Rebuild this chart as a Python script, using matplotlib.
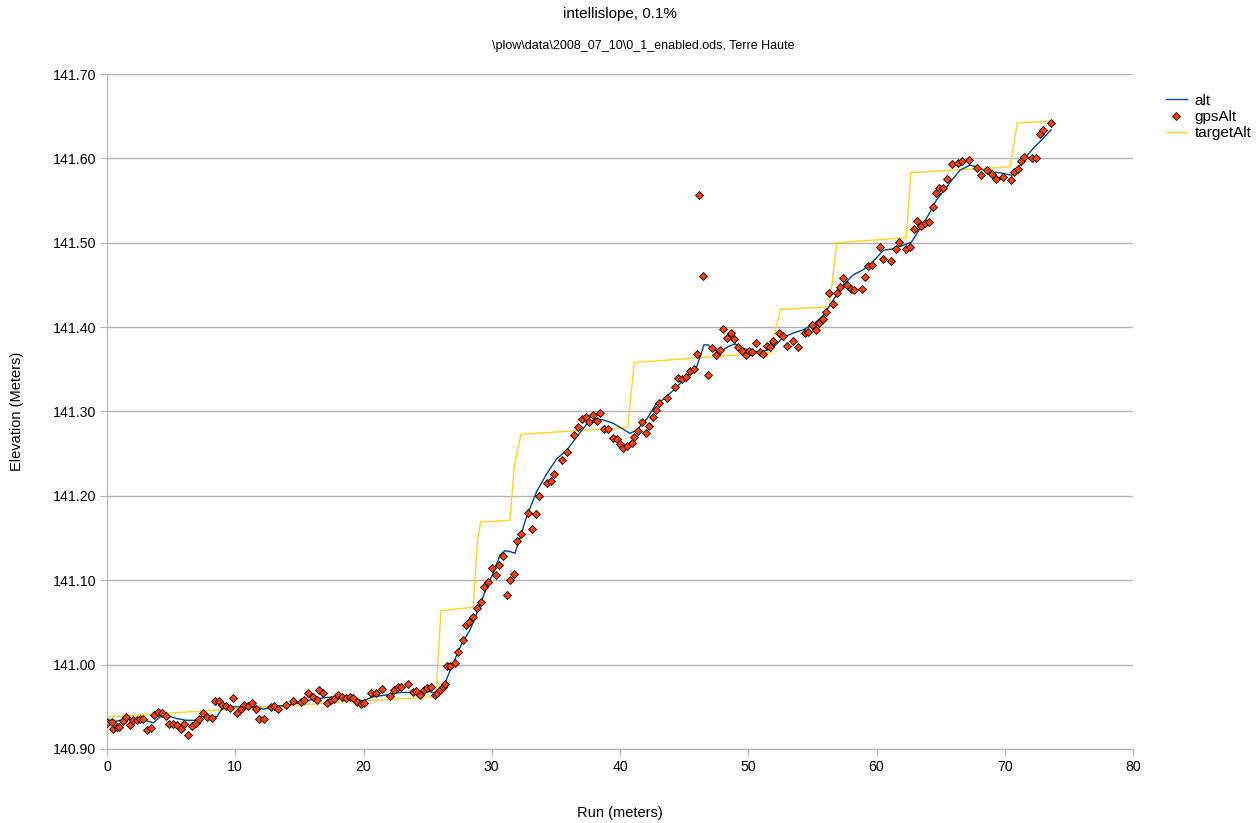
import matplotlib
matplotlib.use("Agg")
import matplotlib.pyplot as plt
from matplotlib.lines import Line2D

plt.rcParams['font.family'] = ['Liberation Sans', 'DejaVu Sans']

# ---- data ----
gps_run = [0.00, 0.37, 0.47, 0.76, 0.94, 1.22, 1.48, 1.79, 2.03, 2.32, 2.57, 2.81, 3.12, 3.41, 3.66, 3.98,
           4.29, 4.60, 4.83, 5.15, 5.46, 5.75, 6.00, 6.32, 6.63, 6.94, 7.17, 7.49, 7.80, 8.16, 8.42, 8.73,
           8.97, 9.28, 9.59, 9.83, 10.11, 10.42, 10.68, 10.99, 11.31, 11.62, 11.85, 12.24, 12.76, 13.02,
           13.33, 13.93, 14.48, 15.13, 15.36, 15.67, 16.04, 16.35, 16.53, 16.82, 17.13, 17.44, 17.70,
           18.01, 18.32, 18.64, 18.95, 19.20, 19.52, 19.81, 20.06, 20.58, 20.95, 21.47, 22.07, 22.38,
           22.67, 22.92, 23.49, 23.84, 24.07, 24.41, 24.72, 24.97, 25.24, 25.55, 25.75, 25.96, 26.18,
           26.33, 26.53, 26.74, 27.13, 27.39, 27.74, 27.97, 28.25, 28.56, 28.87, 29.14, 29.42, 29.68,
           30.00, 30.31, 30.57, 30.85, 31.17, 31.42, 31.71, 31.99, 32.28, 32.80, 33.16, 33.43, 33.68,
           34.28, 34.60, 34.88, 35.50, 35.84, 36.41, 36.70, 37.01, 37.33, 37.61, 37.87, 38.18, 38.44,
           38.78, 39.09, 39.43, 39.74, 40.00, 40.26, 40.57, 40.91, 41.11, 41.43, 41.72, 42.00, 42.26,
           42.55, 42.83, 43.06, 43.69, 44.29, 44.55, 44.86, 45.15, 45.46, 45.77, 46.03, 46.18, 46.49,
           46.89, 47.20, 47.49, 47.80, 48.05, 48.32, 48.63, 48.89, 49.18, 49.49, 49.80, 50.06, 50.32,
           50.60, 50.92, 51.17, 51.44, 51.70, 51.95, 52.40, 52.73, 53.04, 53.51, 53.90, 54.42, 54.68,
           54.95, 55.26, 55.52, 55.81, 56.06, 56.32, 56.58, 56.90, 57.15, 57.41, 57.68, 57.99, 58.27,
           58.85, 59.10, 59.36, 59.67, 60.27, 60.53, 61.13, 61.50, 61.75, 62.30, 62.61, 62.90, 63.18,
           63.49, 63.78, 64.09, 64.37, 64.64, 64.90, 65.21, 65.52, 65.86, 66.33, 66.69, 67.24, 67.81,
           68.12, 68.64, 68.98, 69.32, 69.89, 70.46, 70.72, 71.01, 71.27, 71.50, 72.10, 72.41, 72.75,
           72.96, 73.61]
gps_alt = [140.931, 140.932, 140.924, 140.926, 140.926, 140.933, 140.938, 140.928, 140.934, 140.934,
           140.936, 140.936, 140.923, 140.925, 140.940, 140.944, 140.943, 140.939, 140.930, 140.930,
           140.928, 140.924, 140.930, 140.917, 140.927, 140.931, 140.936, 140.943, 140.938, 140.937,
           140.957, 140.957, 140.952, 140.951, 140.949, 140.960, 140.943, 140.947, 140.952, 140.951,
           140.955, 140.947, 140.936, 140.936, 140.950, 140.951, 140.947, 140.952, 140.957, 140.956,
           140.958, 140.966, 140.962, 140.958, 140.970, 140.966, 140.955, 140.958, 140.959, 140.964,
           140.962, 140.960, 140.962, 140.960, 140.956, 140.953, 140.955, 140.966, 140.966, 140.971,
           140.963, 140.970, 140.974, 140.973, 140.977, 140.967, 140.969, 140.964, 140.970, 140.972,
           140.973, 140.964, 140.966, 140.970, 140.974, 140.977, 140.998, 140.998, 141.002, 141.015,
           141.029, 141.047, 141.051, 141.057, 141.067, 141.074, 141.092, 141.098, 141.114, 141.106,
           141.118, 141.129, 141.083, 141.100, 141.107, 141.146, 141.155, 141.180, 141.161, 141.179,
           141.200, 141.215, 141.218, 141.226, 141.243, 141.252, 141.272, 141.282, 141.291, 141.294,
           141.287, 141.296, 141.289, 141.298, 141.279, 141.279, 141.269, 141.267, 141.262, 141.257,
           141.259, 141.263, 141.270, 141.277, 141.287, 141.275, 141.283, 141.293, 141.302, 141.310,
           141.316, 141.329, 141.340, 141.338, 141.341, 141.348, 141.350, 141.368, 141.557, 141.460,
           141.343, 141.375, 141.367, 141.373, 141.398, 141.387, 141.393, 141.386, 141.376, 141.372,
           141.367, 141.372, 141.371, 141.381, 141.370, 141.368, 141.378, 141.376, 141.384, 141.393,
           141.389, 141.378, 141.384, 141.377, 141.393, 141.394, 141.402, 141.397, 141.405, 141.410,
           141.418, 141.440, 141.427, 141.440, 141.448, 141.458, 141.450, 141.445, 141.444, 141.445,
           141.459, 141.473, 141.474, 141.495, 141.481, 141.478, 141.493, 141.501, 141.493, 141.495,
           141.516, 141.526, 141.520, 141.523, 141.525, 141.542, 141.559, 141.565, 141.565, 141.576,
           141.593, 141.595, 141.597, 141.598, 141.589, 141.580, 141.586, 141.582, 141.576, 141.578,
           141.574, 141.584, 141.587, 141.597, 141.602, 141.601, 141.601, 141.629, 141.634, 141.642]

alt_run = [0.00, 0.47, 1.01, 2.57, 3.61, 4.13, 4.65, 5.43, 6.21, 6.86, 7.51, 8.55, 9.07, 10.63, 11.67,
           12.19, 12.97, 14.01, 15.05, 16.09, 17.13, 18.17, 18.95, 19.98, 20.76, 21.81, 22.85, 23.88,
           25.19, 25.65, 25.96, 26.35, 27.00, 27.66, 28.30, 28.95, 29.61, 30.25, 30.64, 31.03, 31.42,
           31.81, 32.20, 32.73, 33.50, 34.28, 35.06, 35.84, 36.62, 37.40, 38.05, 38.70, 39.48, 40.13,
           40.78, 41.30, 42.08, 42.86, 43.10, 44.16, 45.20, 45.98, 46.24, 46.55, 46.89, 47.15, 47.80,
           48.44, 48.97, 49.61, 50.39, 51.17, 51.95, 52.73, 53.51, 54.29, 55.07, 55.85, 56.63, 57.41,
           58.19, 58.97, 59.75, 60.53, 61.31, 62.09, 62.74, 63.39, 63.91, 64.69, 65.21, 65.86, 66.51,
           67.29, 67.81, 68.59, 69.63, 70.54, 70.93, 71.45, 72.23, 73.01, 73.61]
alt_alt = [140.936, 140.932, 140.934, 140.936, 140.931, 140.938, 140.940, 140.936, 140.934, 140.934,
           140.940, 140.938, 140.950, 140.950, 140.950, 140.947, 140.950, 140.952, 140.955, 140.959,
           140.961, 140.962, 140.961, 140.957, 140.962, 140.964, 140.967, 140.967, 140.968, 140.966,
           140.970, 140.978, 141.002, 141.025, 141.041, 141.065, 141.092, 141.113, 141.130, 141.135,
           141.134, 141.132, 141.150, 141.176, 141.205, 141.226, 141.244, 141.254, 141.270, 141.285,
           141.291, 141.290, 141.286, 141.280, 141.274, 141.278, 141.291, 141.310, 141.311, 141.325,
           141.341, 141.353, 141.365, 141.379, 141.379, 141.373, 141.371, 141.377, 141.380, 141.375,
           141.371, 141.371, 141.376, 141.388, 141.393, 141.397, 141.403, 141.414, 141.432, 141.450,
           141.462, 141.468, 141.478, 141.491, 141.493, 141.497, 141.501, 141.517, 141.529, 141.551,
           141.561, 141.574, 141.586, 141.592, 141.590, 141.584, 141.583, 141.580, 141.586, 141.598,
           141.612, 141.624, 141.634]

target_run = [0.00, 18.95, 25.65, 26.04, 28.56, 28.87, 29.14, 31.42, 31.76, 32.28, 40.60, 41.11,
              51.82, 51.95, 52.53, 56.32, 56.90, 62.33, 62.67, 70.41, 70.98, 73.58]
target_alt = [140.938, 140.956, 140.962, 141.064, 141.068, 141.144, 141.169, 141.171, 141.235,
              141.273, 141.281, 141.358, 141.370, 141.388, 141.421, 141.424, 141.500, 141.506,
              141.583, 141.590, 141.642, 141.644]

title = "intellislope, 0.1%"
subtitle = "\\plow\\data\\2008_07_10\\0_1_enabled.ods, Terre Haute"
x_label = "Run (meters)"
y_label = "Elevation (Meters)"
x_ticks = [0, 10, 20, 30, 40, 50, 60, 70, 80]
y_ticks = [140.90, 141.00, 141.10, 141.20, 141.30, 141.40, 141.50, 141.60, 141.70]

# ---- styling ----
c_alt = "#004586"
c_gps = "#ff420e"
c_target = "#ffd320"
grid_c = "#b3b3b3"

fig = plt.figure(figsize=(12.59, 8.23), dpi=100)
ax = fig.add_axes([107/1259, 1-749/823, (1133-107)/1259, (749-74)/823])

ax.plot(target_run, target_alt, color=c_target, lw=1.0, zorder=3)
ax.plot(alt_run, alt_alt, color=c_alt, lw=1.0, zorder=4)
ax.plot(gps_run, gps_alt, linestyle='none', marker='D', ms=4.4, mfc=c_gps, mec='black',
        mew=0.6, zorder=5)

ax.set_xlim(0, 80)
ax.set_ylim(140.90, 141.70)
ax.set_xticks(x_ticks)
ax.set_yticks(y_ticks)
ax.set_xticklabels([str(t) for t in x_ticks])
ax.set_yticklabels([f"{t:.2f}" for t in y_ticks])
ax.yaxis.grid(True, color=grid_c, lw=1.0)
ax.set_axisbelow(True)
for s in ['top', 'right']:
    ax.spines[s].set_visible(False)
for s in ['left', 'bottom']:
    ax.spines[s].set_color(grid_c)
ax.tick_params(axis='both', direction='out', length=5, color=grid_c, labelsize=10.2,
               labelcolor='black', pad=3)

fig.text(620/1259, 1-813/823, x_label, ha='center', va='center', fontsize=10.5)
fig.text(17/1259, 1-411/823, y_label, ha='center', va='center', rotation=90, fontsize=10.5)

fig.text(620/1259, 1-14/823, title, ha='center', va='center', fontsize=11)
fig.text(643/1259, 1-46/823, subtitle, ha='center', va='center', fontsize=9)

handles = [Line2D([], [], color=c_alt, lw=1.0),
           Line2D([], [], linestyle='none', marker='D', ms=4.4, mfc=c_gps, mec='black', mew=0.6),
           Line2D([], [], color=c_target, lw=1.0)]
fig.legend(handles, ["alt", "gpsAlt", "targetAlt"], loc='upper left',
           bbox_to_anchor=(1158/1259, 1-86/823), frameon=False, fontsize=11,
           handlelength=1.4, handletextpad=0.5, labelspacing=0.15, borderpad=0)

fig.savefig("out.png", dpi=100)
